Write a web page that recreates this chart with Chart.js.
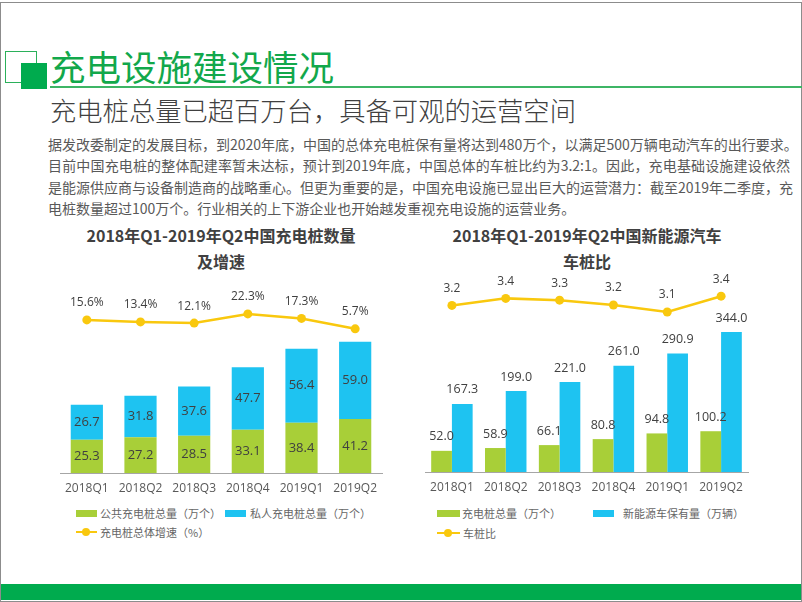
<!DOCTYPE html>
<html><head><meta charset="utf-8">
<script src="https://cdn.jsdelivr.net/npm/chart.js@4.4.1/dist/chart.umd.min.js"></script>
<style>
html,body{margin:0;padding:0;background:#fff;}
#page{position:relative;width:802px;height:602px;overflow:hidden;font-family:"Noto Sans CJK SC","Noto Sans",sans-serif;}
.abs{position:absolute;}
.para div{height:21.3px;line-height:21.3px;white-space:nowrap;}
.para .j{text-align:justify;text-align-last:justify;}
.ctitle{font-weight:bold;font-size:16px;line-height:26px;color:#404040;text-align:center;}
.lg{font-size:11px;line-height:14px;color:#666;white-space:nowrap;}
.sw{height:7px;}
.ln{height:2px;background:#F9C80E;}
.dot{width:8px;height:8px;border-radius:50%;background:#F9C80E;}
canvas{position:absolute;}
</style></head><body>
<div id="page">
  <div class="abs" style="left:0;top:2px;width:800px;height:598px;border:1px solid #8c8c8c;"></div>
  <div class="abs" style="left:1px;top:584px;width:800px;height:16px;background:#00ab4e;"></div>
  <div class="abs" style="left:5px;top:51px;width:30px;height:30px;border:1px solid #2bb05a;"></div>
  <div class="abs" style="left:21px;top:63px;width:26px;height:26px;background:#00ab4e;"></div>
  <div class="abs" style="left:50px;top:46px;font-size:35.5px;line-height:40px;color:#12a84b;white-space:nowrap;">充电设施建设情况</div>
  <div class="abs" style="left:50px;top:86px;width:752px;height:2px;background:#3db565;"></div>
  <div class="abs" style="left:50px;top:95px;font-size:26.3px;line-height:30px;color:#404040;font-weight:300;white-space:nowrap;">充电桩总量已超百万台，具备可观的运营空间</div>
  <div class="abs para" style="left:48px;top:134px;width:742px;font-size:14px;color:#595959;">
    <div class="j">据发改委制定的发展目标，到2020年底，中国的总体充电桩保有量将达到480万个，以满足500万辆电动汽车的出行要求。</div>
    <div class="j">目前中国充电桩的整体配建率暂未达标，预计到2019年底，中国总体的车桩比约为3.2:1。因此，充电基础设施建设依然</div>
    <div class="j">是能源供应商与设备制造商的战略重心。但更为重要的是，中国充电设施已显出巨大的运营潜力：截至2019年二季度，充</div>
    <div>电桩数量超过100万个。行业相关的上下游企业也开始越发重视充电设施的运营业务。</div>
  </div>

  <div class="abs ctitle" style="left:40px;top:222px;width:362px;">2018年Q1-2019年Q2中国充电桩数量<br>及增速</div>
  <div class="abs ctitle" style="left:410px;top:222px;width:354px;">2018年Q1-2019年Q2中国新能源汽车<br>车桩比</div>

  <canvas id="c1" width="360" height="235" style="left:40px;top:265px;"></canvas>
  <canvas id="c2" width="390" height="235" style="left:410px;top:265px;"></canvas>

  <!-- left legend -->
  <div class="abs sw" style="left:76px;top:510px;width:21px;background:#A8CF38;"></div>
  <div class="abs lg" style="left:100px;top:506px;">公共充电桩总量（万个）</div>
  <div class="abs sw" style="left:225px;top:510px;width:21px;background:#1EC3F1;"></div>
  <div class="abs lg" style="left:250px;top:506px;">私人充电桩总量（万个）</div>
  <div class="abs ln" style="left:76px;top:531px;width:21px;"></div>
  <div class="abs dot" style="left:82px;top:528px;"></div>
  <div class="abs lg" style="left:100px;top:525px;">充电桩总体增速（%）</div>

  <!-- right legend -->
  <div class="abs sw" style="left:437px;top:510px;width:23px;background:#A8CF38;"></div>
  <div class="abs lg" style="left:462px;top:506px;">充电桩总量（万个）</div>
  <div class="abs sw" style="left:593px;top:510px;width:21px;background:#1EC3F1;"></div>
  <div class="abs lg" style="left:623px;top:506px;">新能源车保有量（万辆）</div>
  <div class="abs ln" style="left:437px;top:532px;width:23px;"></div>
  <div class="abs dot" style="left:444px;top:529px;"></div>
  <div class="abs lg" style="left:463px;top:526px;">车桩比</div>
</div>
<script>
const quarters = ['2018Q1','2018Q2','2018Q3','2018Q4','2019Q1','2019Q2'];
const publicPiles = [25.3, 27.2, 28.5, 33.1, 38.4, 41.2];
const privatePiles = [26.7, 31.8, 37.6, 47.7, 56.4, 59.0];
const pileGrowth = [15.6, 13.4, 12.1, 22.3, 17.3, 5.7];
const totalPiles = [52.0, 58.9, 66.1, 80.8, 94.8, 100.2];
const nevStock = [167.3, 199.0, 221.0, 261.0, 290.9, 344.0];
const vehiclePileRatio = [3.22, 3.38, 3.34, 3.23, 3.07, 3.43];

const GREEN = '#A8CF38', BLUE = '#1EC3F1', YELLOW = '#F9C80E';

const valueLabels = {
  id: 'valueLabels',
  afterDatasetsDraw(chart) {
    const ctx = chart.ctx;
    chart.data.datasets.forEach((ds, i) => {
      const meta = chart.getDatasetMeta(i);
      const cfg = ds.labelCfg;
      if (!cfg) return;
      ctx.save();
      ctx.font = cfg.font;
      ctx.fillStyle = cfg.color;
      ctx.textAlign = 'center';
      ctx.textBaseline = 'middle';
      meta.data.forEach((el, j) => {
        const v = ds.data[j];
        const y = cfg.pos === 'center' ? (el.y + el.base) / 2 : el.y - cfg.offset;
        ctx.fillText(cfg.fmt(v), el.x, y);
      });
      ctx.restore();
    });
  }
};

function xAxis(h) {
  return {
    offset: true,
    grid: { display: false, drawTicks: false },
    border: { display: true, color: '#a6a6a6', width: 1 },
    ticks: { color: '#595959', font: { family: 'Open Sans', size: 12 }, padding: 8, maxRotation: 0, autoSkip: false },
    afterFit(s) { s.height = h; }
  };
}

const common = {
  responsive: false,
  animation: false,
  devicePixelRatio: 1,
  plugins: { legend: { display: false }, tooltip: { enabled: false }, title: { display: false } }
};

new Chart(document.getElementById('c1'), {
  type: 'bar',
  data: {
    labels: quarters,
    datasets: [
      { type: 'line', data: pileGrowth, yAxisID: 'y1', borderColor: YELLOW, backgroundColor: YELLOW, borderWidth: 2.5,
        pointRadius: 4.5, pointBackgroundColor: YELLOW, pointBorderWidth: 0, tension: 0, order: 0,
        labelCfg: { font: '12px "Open Sans"', color: '#404040', pos: 'top', offset: 17, fmt: v => v.toFixed(1) + '%' } },
      { data: publicPiles, yAxisID: 'y', backgroundColor: GREEN, barPercentage: 0.6, categoryPercentage: 1, order: 1,
        labelCfg: { font: '13px "Open Sans"', color: '#404040', pos: 'center', fmt: v => v.toFixed(1) } },
      { data: privatePiles, yAxisID: 'y', backgroundColor: BLUE, barPercentage: 0.6, categoryPercentage: 1, order: 2,
        labelCfg: { font: '13px "Open Sans"', color: '#404040', pos: 'center', fmt: v => v.toFixed(1) } }
    ]
  },
  options: Object.assign({}, common, {
    layout: { padding: { left: 20, right: 18, top: 20, bottom: 0 } },
    scales: {
      x: Object.assign(xAxis(27), { stacked: true }),
      y: { display: false, stacked: true, min: 0, max: 143.5 },
      y1: { display: false, min: -154.4, max: 54.4 }
    }
  }),
  plugins: [valueLabels]
});

new Chart(document.getElementById('c2'), {
  type: 'bar',
  data: {
    labels: quarters,
    datasets: [
      { type: 'line', data: vehiclePileRatio, yAxisID: 'y1', borderColor: YELLOW, backgroundColor: YELLOW, borderWidth: 2.5,
        pointRadius: 4.5, pointBackgroundColor: YELLOW, pointBorderWidth: 0, tension: 0, order: 0,
        labelCfg: { font: '12px "Open Sans"', color: '#404040', pos: 'top', offset: 17, fmt: v => v.toFixed(1) } },
      { data: totalPiles, yAxisID: 'y', backgroundColor: GREEN, barPercentage: 1, categoryPercentage: 0.77, order: 1,
        labelCfg: { font: '12.5px "Open Sans"', color: '#404040', pos: 'top', offset: 14, fmt: v => v.toFixed(1) } },
      { data: nevStock, yAxisID: 'y', backgroundColor: BLUE, barPercentage: 1, categoryPercentage: 0.77, order: 2,
        labelCfg: { font: '12.5px "Open Sans"', color: '#404040', pos: 'top', offset: 14, fmt: v => v.toFixed(1) } }
    ]
  },
  options: Object.assign({}, common, {
    layout: { padding: { left: 15, right: 52, top: 20, bottom: 0 } },
    scales: {
      x: xAxis(28),
      y: { display: false, min: 0, max: 459.5 },
      y1: { display: false, min: -0.566, max: 3.684 }
    }
  }),
  plugins: [valueLabels]
});
</script>
</body></html>
